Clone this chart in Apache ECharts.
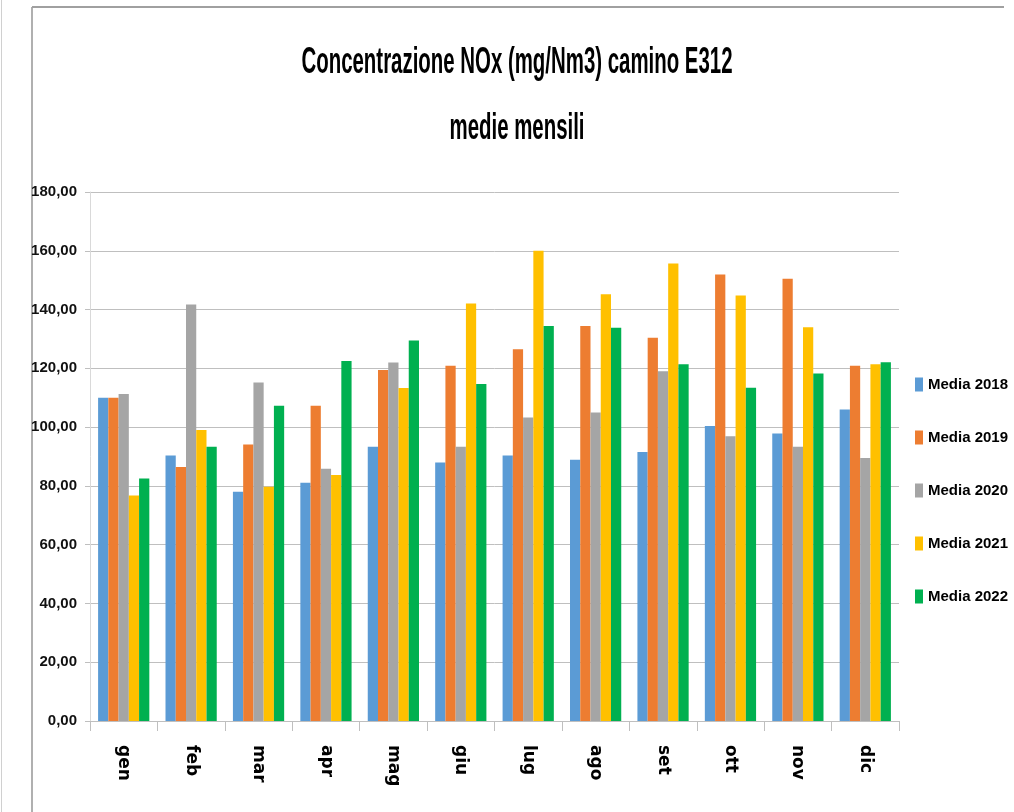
<!DOCTYPE html>
<html>
<head>
<meta charset="utf-8">
<script src="https://cdn.jsdelivr.net/npm/echarts@6/dist/echarts.min.js"></script>
<style>
html,body{margin:0;padding:0;background:#fff;}
#chart{width:1014px;height:812px;}
</style>
</head>
<body>
<div id="chart"></div>
<script>
var titleLine1 = 'Concentrazione NOx (mg/Nm3) camino E312';
var titleLine2 = 'medie mensili';
var months = ['gen','feb','mar','apr','mag','giu','lug','ago','set','ott','nov','dic'];
var seriesNames = ['Media 2018','Media 2019','Media 2020','Media 2021','Media 2022'];
var media2018 = [110.0, 90.3, 78.0, 81.1, 93.3, 88.0, 90.3, 88.9, 91.5, 100.4, 97.8, 106.0];
var media2019 = [110.0, 86.4, 94.1, 107.3, 119.4, 120.9, 126.5, 134.4, 130.4, 151.9, 150.5, 120.9];
var media2020 = [111.3, 141.7, 115.2, 85.8, 122.0, 93.3, 103.3, 105.0, 119.0, 96.9, 93.3, 89.5];
var media2021 = [76.7, 99.0, 79.7, 83.7, 113.3, 142.1, 160.0, 145.2, 155.7, 144.8, 134.0, 121.4];
var media2022 = [82.5, 93.3, 107.3, 122.5, 129.5, 114.7, 134.4, 133.8, 121.4, 113.4, 118.2, 122.1];
var colors = ['#5b9bd5','#ed7d31','#a5a5a5','#ffc000','#00b050'];

var allData = [media2018, media2019, media2020, media2021, media2022];
var chart = echarts.init(document.getElementById('chart'));
var sans = '"Liberation Sans", Arial, sans-serif';

var series = seriesNames.map(function (n, i) {
  return {
    name: n,
    type: 'bar',
    data: allData[i],
    barGap: '0%',
    barCategoryGap: '24%',
    itemStyle: { color: colors[i] }
  };
});

chart.setOption({
  animation: false,
  color: colors,
  graphic: [
    { type: 'line', shape: { x1: 1.5, y1: 0, x2: 1.5, y2: 812 }, style: { stroke: '#d0d0d0', lineWidth: 1 } },
    { type: 'line', shape: { x1: 32, y1: 7, x2: 32, y2: 812 }, style: { stroke: '#b0b0b0', lineWidth: 2 } },
    { type: 'line', shape: { x1: 32, y1: 7, x2: 1004, y2: 7 }, style: { stroke: '#a0a0a0', lineWidth: 2 } },
    { type: 'text', x: 517, y: 63, scaleX: 0.567,
      style: { text: titleLine1, font: 'bold 36px ' + sans, fill: '#000', textAlign: 'center', textVerticalAlign: 'middle' } },
    { type: 'text', x: 517, y: 129, scaleX: 0.567,
      style: { text: titleLine2, font: 'bold 36px ' + sans, fill: '#000', textAlign: 'center', textVerticalAlign: 'middle' } }
  ],
  legend: {
    orient: 'vertical',
    left: 910,
    top: 371,
    itemWidth: 8,
    itemHeight: 14,
    itemGap: 36,
    icon: 'rect',
    data: seriesNames,
    textStyle: { fontFamily: sans, fontWeight: 'bold', fontSize: 15, color: '#000', lineHeight: 17 }
  },
  grid: { left: 90, right: 115, top: 192, bottom: 91 },
  xAxis: {
    type: 'category',
    data: months,
    axisLine: { lineStyle: { color: '#bfbfbf', width: 1 } },
    axisTick: { show: true, length: 10, lineStyle: { color: '#bfbfbf' } },
    axisLabel: {
      rotate: -90,
      margin: 24,
      fontFamily: '"DejaVu Sans", sans-serif',
      fontWeight: 'bold',
      fontSize: 17,
      color: '#000'
    }
  },
  yAxis: {
    type: 'value',
    min: 0,
    max: 180,
    interval: 20,
    axisLine: { show: true, lineStyle: { color: '#d9d9d9' } },
    axisTick: { show: true, length: 5, lineStyle: { color: '#bfbfbf' } },
    splitLine: { lineStyle: { color: '#bfbfbf', width: 1 } },
    axisLabel: {
      margin: 13,
      fontFamily: sans,
      fontWeight: 'bold',
      fontSize: 15,
      color: '#111',
      formatter: function (v) { return v.toFixed(2).replace('.', ','); }
    }
  },
  series: series
});
</script>
</body>
</html>
